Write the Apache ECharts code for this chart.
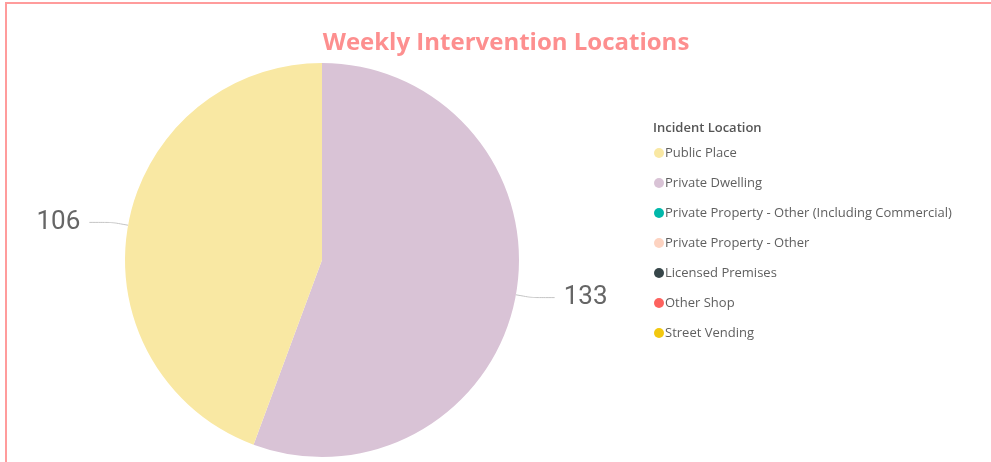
<!DOCTYPE html>
<html>
<head>
<meta charset="utf-8">
<title>Weekly Intervention Locations</title>
<script src="https://cdn.jsdelivr.net/npm/echarts@6/dist/echarts.min.js"></script>
<style>
  html, body { margin: 0; padding: 0; background: #fff; }
  #wrap { position: relative; width: 991px; height: 462px; overflow: hidden; }
  #frame {
    position: absolute; left: 5px; top: 2px; right: 0; bottom: 0;
    border-top: 2px solid #ff9c9c; border-left: 2px solid #ff9c9c;
  }
  #chart { position: absolute; left: 0; top: 0; width: 991px; height: 462px; }
</style>
</head>
<body>
<div id="wrap">
  <div id="frame"></div>
  <div id="chart"></div>
</div>
<script>
// legend order as shown in the report
const locations = [
  'Public Place',
  'Private Dwelling',
  'Private Property - Other (Including Commercial)',
  'Private Property - Other',
  'Licensed Premises',
  'Other Shop',
  'Street Vending'
]
const counts = [106, 133, 0, 0, 0, 0, 0]
const colors = ['#f9e8a3', '#d9c3d6', '#01b8aa', '#fdd3c1', '#374649', '#fd625e', '#f2c80f']

// slices are drawn clockwise from 12 o'clock starting with Private Dwelling
const drawOrder = [1, 0, 2, 3, 4, 5, 6]

const chart = echarts.init(document.getElementById('chart'))

const pieData = drawOrder.map((i) => {
  const item = {
    name: locations[i],
    value: counts[i],
    itemStyle: { color: colors[i] }
  }
  if (!counts[i]) {
    item.label = { show: false }
    item.labelLine = { show: false }
  }
  return item
})

chart.setOption({
  animation: false,
  title: [
    {
      text: 'Weekly Intervention Locations',
      left: 501,
      top: 26,
      textAlign: 'center',
      textStyle: {
        color: '#fd8f8f',
        fontFamily: 'Open Sans',
        fontWeight: 'bold',
        fontSize: 24
      }
    },
    {
      text: 'Incident Location',
      left: 648,
      top: 117,
      textStyle: {
        color: '#555',
        fontFamily: 'Open Sans',
        fontWeight: 600,
        fontSize: 13
      }
    }
  ],
  legend: {
    orient: 'vertical',
    left: 649,
    top: 141,
    icon: 'circle',
    itemWidth: 10,
    itemHeight: 10,
    itemGap: 16,
    data: locations,
    selectedMode: false,
    textStyle: {
      color: '#5f5f5f',
      fontFamily: 'Open Sans',
      fontSize: 13,
      padding: [0, 0, 0, -4],
      lineHeight: 14
    }
  },
  series: [
    {
      type: 'pie',
      center: [322, 260],
      radius: [0, 197],
      startAngle: 90,
      clockwise: true,
      avoidLabelOverlap: false,
      itemStyle: { borderWidth: 0 },
      label: {
        show: true,
        position: 'outside',
        formatter: '{c}',
        color: '#666',
        fontFamily: 'Roboto',
        fontSize: 26,
        distanceToLabelLine: 9
      },
      labelLine: {
        show: true,
        length: 16,
        length2: 23,
        smooth: 0.2,
        lineStyle: { color: '#c4c4c4', width: 1 }
      },
      data: pieData
    }
  ]
})

window.addEventListener('resize', () => chart.resize())
</script>
</body>
</html>
